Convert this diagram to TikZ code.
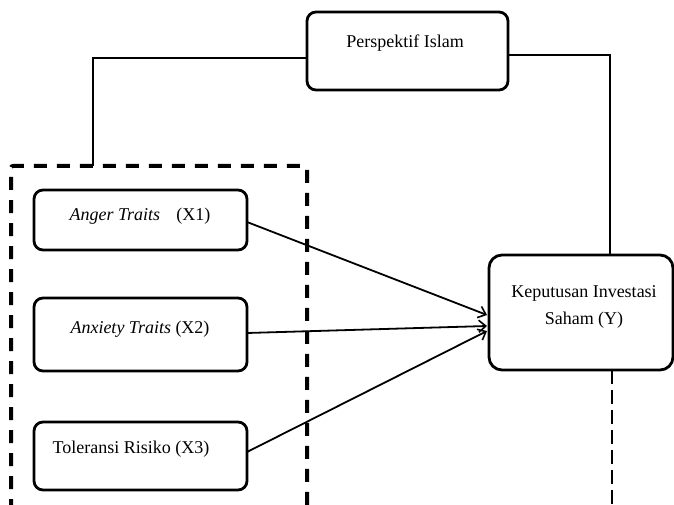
\documentclass[tikz,border=0pt]{standalone}
\usepackage{fontspec}
\setmainfont{Liberation Serif}
\usetikzlibrary{arrows.meta}
\begin{document}
\begin{tikzpicture}[x=1pt,y=-1pt,
  box/.style={draw=black,line width=2.8pt,rounded corners=9pt,fill=white,inner sep=0pt},
  conn/.style={draw=black,line width=1.8pt},
  arr/.style={conn,-{Straight Barb[length=7pt,width=12pt,line width=1.6pt]}},
  grp/.style={draw=black,line width=4pt,dash pattern=on 13pt off 10pt,rounded corners=2pt},
  lbl/.style={font=\fontsize{18}{27}\selectfont,align=center,inner sep=0pt}]
\useasboundingbox (0,0) rectangle (674,505);
\clip (0,0) rectangle (674,505);
% group box
\draw[grp] (11,512) -- (11,166) -- (307,166) -- (307,512);
% boxes
\draw[box] (307,12) rectangle (508,90);
\node[lbl] (P) at (405,43) {Perspektif Islam};
\coordinate (Pw) at (307,58);
\coordinate (Pe) at (508,55);
\draw[box] (34,190) rectangle (247,250);
\node[lbl] (X1) at (140,216) {\textit{Anger Traits}\hspace{0.9em}(X1)};
\draw[box] (34,298) rectangle (247,371);
\node[lbl] (X2) at (140,329) {\textit{Anxiety Traits} (X2)};
\draw[box] (34,422) rectangle (247,490);
\node[lbl] (X3) at (131,449) {Toleransi Risiko (X3)};
\draw[box,rounded corners=13pt] (489,255) rectangle (673,370);
\node[lbl] (Y) at (584,307) {Keputusan Investasi\\Saham (Y)};
% anchors
\coordinate (X1e) at (247,222);
\coordinate (X2e) at (247,333);
\coordinate (X3e) at (247,452);
\coordinate (Yt1) at (487,315);
\coordinate (Yt2) at (487,326);
\coordinate (Yt3) at (487,331);
\coordinate (Gt) at (93,166);
\coordinate (Yn) at (610,255);
\coordinate (Ys) at (612,370);
\coordinate (Yb) at (612,505);
% connectors
\draw[conn] (Pw) -- (93,58) -- (Gt);
\draw[conn] (Pe) -- (610,55) -- (Yn);
\draw[arr] (X1e) -- (Yt1);
\draw[arr] (X2e) -- (Yt2);
\draw[arr] (X3e) -- (Yt3);
\draw[conn,dash pattern=on 14pt off 6pt] (Ys) -- (Yb);
\end{tikzpicture}
\end{document}
